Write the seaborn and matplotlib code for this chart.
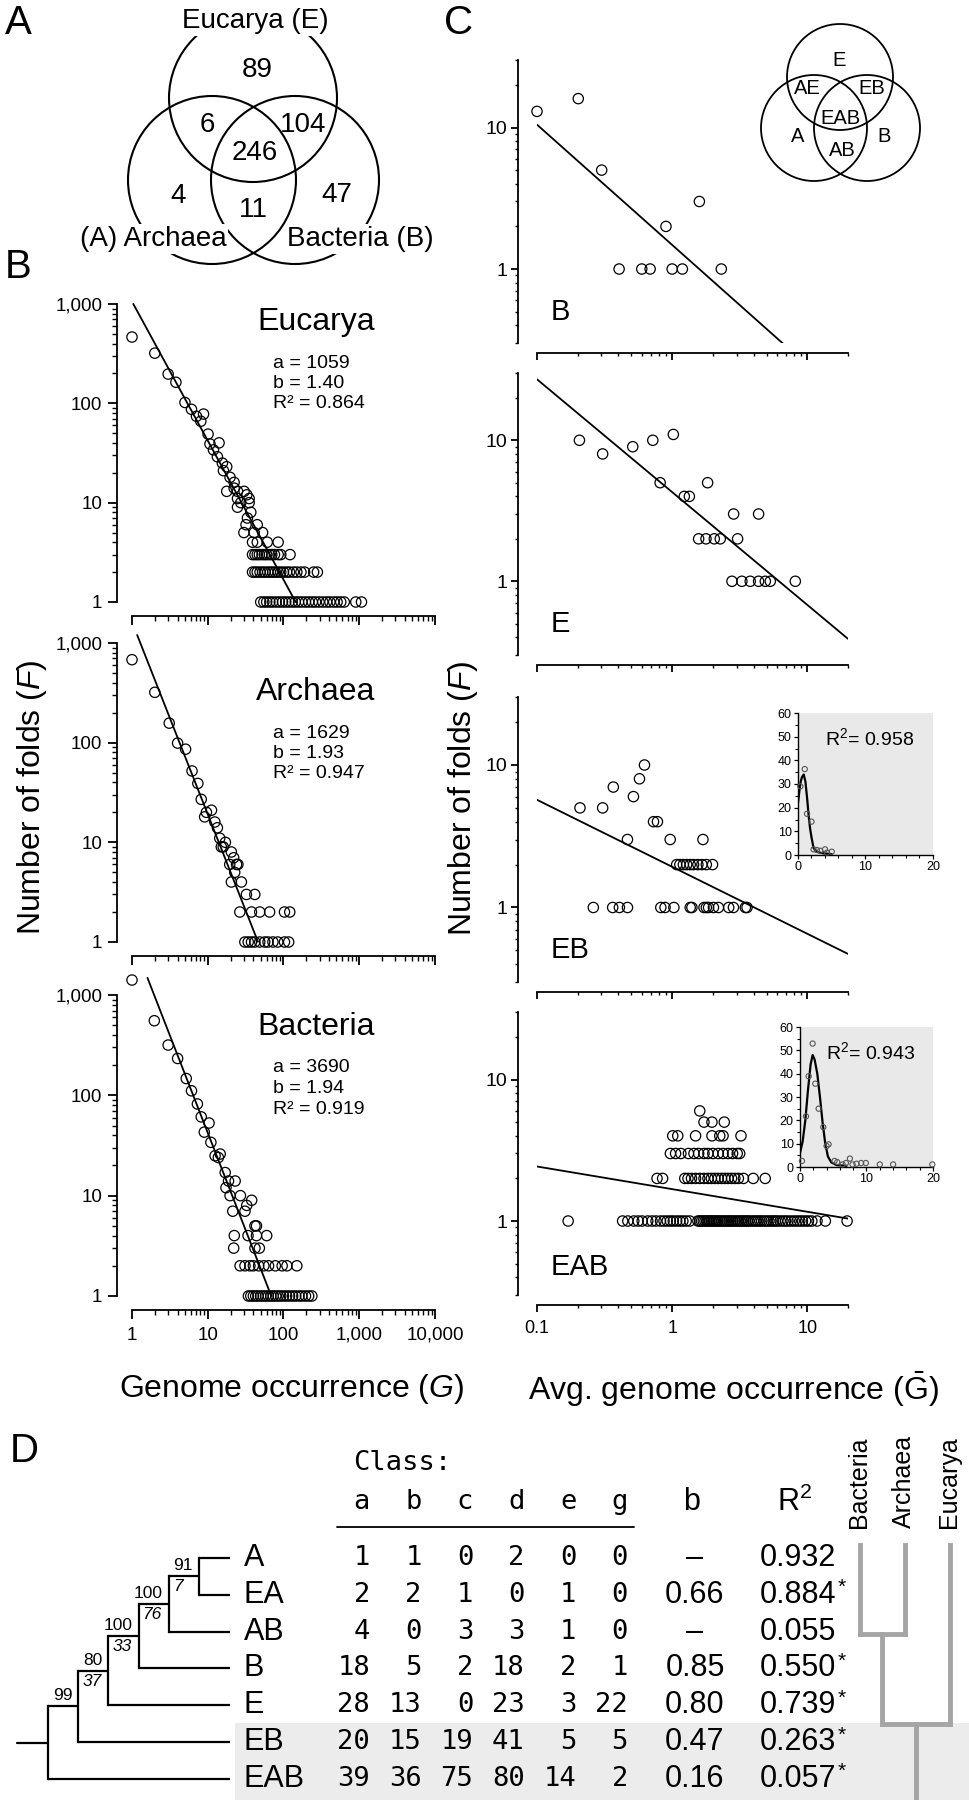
"""Fold distributions in the three superkingdoms (panels A-D)"""

import numpy as np
import pandas as pd
import matplotlib
matplotlib.use('Agg')
from matplotlib import pyplot as plt
from matplotlib import ticker
from matplotlib.patches import Circle, Rectangle
import seaborn as sns

# ---------------- A: Venn diagram of shared folds
venn_regions = ['E', 'AE', 'EB', 'EAB', 'A', 'AB', 'B']
venn_counts = [89, 6, 104, 246, 4, 11, 47]
venn_names = ['Eucarya (E)', '(A) Archaea', 'Bacteria (B)']

# ---------------- B: number of folds (F) vs genome occurrence (G)
kingdoms = ['Eucarya', 'Archaea', 'Bacteria']
fit_a = [1059, 1629, 3690]
fit_b = [1.40, 1.93, 1.94]
fit_r2 = [0.864, 0.947, 0.919]
fit_g_start = [1.04, 1.17, 1.6]
fit_g_end = [145, 46, 69]

euk_g = [1, 2, 3, 3.8, 5, 6.1, 7.1, 8.8, 8.1, 10.1, 10.7, 14.1, 11.9, 13.4, 15.6,
         17.8, 16.1, 19.7, 22.3, 17.8, 22.3, 24.7, 30.2, 32.8, 35.2, 24.7, 27.3,
         35.2, 24.7, 37, 33.4, 32, 45, 30, 41, 53, 39, 45, 61, 85]
euk_f = [465, 320, 197, 163, 102, 87, 74, 78, 66, 49, 39, 40, 34, 29, 25,
         23, 21, 18, 16, 13, 14, 13, 13, 12, 11, 11, 10,
         10, 9, 8, 7, 6, 6, 5, 5, 5, 4, 4, 4, 4]
euk_row3 = [39, 42, 45, 48, 52, 56, 60, 65, 70, 76, 85, 92, 122]
euk_row2 = [39, 42, 45, 49, 53, 57, 62, 67, 72, 78, 85, 92, 100, 110, 120, 135,
            150, 170, 190, 250, 280]
euk_row1 = [50, 55, 60, 66, 72, 80, 88, 97, 107, 118, 130, 143, 158, 175, 195,
            215, 240, 265, 295, 330, 370, 410, 460, 510, 570, 634, 900, 1070]

arc_g = [1, 2, 3.1, 4, 5.1, 6.2, 7.4, 8.2, 9.1, 11.2, 9.6, 12.4, 13.4, 14.4,
         17.1, 15.1, 16, 20.5, 22, 19.5, 24, 25, 22.7, 20.5, 27.8, 32.4, 41.8]
arc_f = [680, 320, 157, 99, 86, 52, 39, 27, 18, 21, 20, 16, 14, 11,
         10, 9, 9, 8, 7, 6, 6, 6, 5, 4, 4, 3, 3]
arc_row2 = [26.5, 37.8, 48.6, 65.6, 103, 121]
arc_row1 = [30.9, 34.2, 37.8, 41.8, 48.6, 56.5, 62.5, 72.5, 84, 103, 117]

bac_g = [1, 1.97, 3, 4, 5.2, 6.1, 7.3, 8.2, 10.4, 9, 11, 12.5, 14.6, 13.8, 17,
         18.8, 23, 17.4, 19.7, 27, 21.4, 32.7, 31, 38, 22.4, 34, 44, 60, 42, 44,
         22, 42, 48]
bac_f = [1410, 554, 317, 233, 147, 111, 82, 61, 53, 43, 34, 25, 26, 24, 17,
         14, 14, 12, 10, 10, 7, 8, 7, 9, 4, 4, 4, 4, 5, 5,
         3, 3, 3]
bac_row2 = [26.7, 31, 36, 40, 47, 55, 63.5, 78, 96, 111, 150]
bac_row1 = [34.4, 37, 40, 43, 46, 50, 54, 58, 63, 68, 73, 79, 85, 92, 100, 110,
            120, 132, 145, 160, 175, 195, 215, 237]

# ---------------- C: F vs average genome occurrence, per distribution class
cls_names = ['B', 'E', 'EB', 'EAB']
cls_icpt = [1.48, 4.29, 1.93, 1.68]

b_x = [0.1, 0.202, 0.301, 1.59, 0.90]
b_f = [13, 16, 5, 3, 2]
b_row1 = [0.405, 0.596, 0.687, 1.0, 1.19, 2.31]

e_x = [0.206, 0.306, 0.511, 0.719, 1.02, 0.815, 1.83, 1.23, 1.34, 2.85, 4.36]
e_f = [10, 8, 9, 10, 11, 5, 5, 4, 4, 3, 3]
e_row2 = [1.57, 1.78, 2.05, 2.27, 3.05]
e_row1 = [2.77, 3.28, 3.78, 4.36, 4.89, 5.32, 8.15]

eb_x = [0.208, 0.306, 0.367, 0.517, 0.573, 0.624, 0.728, 0.778, 0.467, 0.967, 1.69]
eb_f = [5, 5, 7, 6, 8, 10, 4, 4, 3, 3, 3]
eb_row2 = [1.08, 1.14, 1.21, 1.28, 1.36, 1.44, 1.55, 1.66, 1.79, 1.99]
eb_row1 = [0.261, 0.363, 0.407, 0.467, 0.824, 0.886, 1.03, 1.36, 1.40, 1.72,
           1.79, 1.86, 2.02, 2.2, 2.62, 2.84, 3.48, 3.58]

eab_x = [1.6, 1.72, 1.97, 2.43, 1.01, 1.10, 1.49, 1.97, 2.25, 2.38, 3.23]
eab_f = [6, 5, 5, 5, 4, 4, 4, 4, 4, 4, 4]
eab_row3 = [0.97, 1.06, 1.16, 1.32, 1.45, 1.57, 1.72, 1.84, 2.0, 2.19, 2.38,
            2.59, 2.8, 3.03, 3.16]
eab_row2 = [0.773, 0.85, 1.24, 1.31, 1.39, 1.49, 1.6, 1.72, 1.84, 1.95, 2.07,
            2.19, 2.32, 2.45, 2.59, 2.75, 2.91, 3.09, 3.37, 3.98, 4.88]
eab_row1 = [0.17, 0.43, 0.47, 0.52, 0.56, 0.60, 0.66, 0.71, 0.76, 0.82, 0.87,
            0.92, 0.97, 1.02, 1.08, 1.14, 1.2, 1.27, 1.35, 1.55, 1.6, 1.65, 1.7,
            1.75, 1.8, 1.85, 1.9, 1.95, 2.0, 2.06, 2.12, 2.18, 2.25, 2.32, 2.4,
            2.48, 2.56, 2.64, 2.72, 2.8, 2.9, 3.0, 3.1, 3.2, 3.3, 3.4, 3.5, 3.6,
            3.7, 3.85, 4.0, 4.15, 4.3, 4.45, 4.6, 4.8, 5.0, 5.2, 5.4, 5.6, 5.8,
            6.0, 6.3, 6.6, 6.9, 7.2, 7.6, 8.0, 8.4, 8.8, 9.2, 9.7, 10.2, 10.8,
            11.8, 13.6, 19.7]

# insets (distribution of folds, linear axes)
inset_r2 = [0.958, 0.943]
ins_eb_x = [0.35, 1.0, 1.34, 2.0, 2.3, 2.8, 3.3, 4.0, 4.3, 5.0]
ins_eb_y = [29, 36.3, 17.4, 14.1, 2.4, 2.1, 1.8, 2.4, 1.0, 1.4]
curve_eb_x = [0, 0.2, 0.4, 0.6, 0.85, 1.1, 1.35, 1.6, 1.8, 2.0, 2.3, 2.7, 3.2, 4, 5]
curve_eb_y = [22, 27, 31, 33, 34, 31, 24, 16, 11, 7.5, 3, 1.5, 1, 0.6, 0.4]
ins_eab_x = [0.3, 0.9, 1.3, 1.9, 2.3, 2.8, 3.5, 4.0, 4.3, 5.2, 5.6, 6.4, 6.9,
             7.5, 7.9, 8.5, 9.2, 9.9, 12, 14, 19.9]
ins_eab_y = [2.6, 21.7, 38.9, 52.9, 35.7, 25, 17.1, 9.0, 9.7, 2.6, 2.1, 1.1, 1.7,
             3.6, 1.1, 1.4, 1.7, 1.7, 1.1, 1.1, 1.1]
curve_eab_x = [0, 0.4, 0.8, 1.2, 1.6, 1.9, 2.2, 2.6, 3.0, 3.4, 3.8, 4.2, 4.7, 5.5, 7]
curve_eab_y = [6, 11, 20, 33, 44, 48, 46, 40, 30, 19, 10, 4.5, 2, 0.8, 0.5]

# ---------------- D: tree and class table
clades = ['A', 'EA', 'AB', 'B', 'E', 'EB', 'EAB']
class_cols = ['a', 'b', 'c', 'd', 'e', 'g']
cls_a = [1, 2, 4, 18, 28, 20, 39]
cls_b = [1, 2, 0, 5, 13, 15, 36]
cls_c = [0, 1, 3, 2, 0, 19, 75]
cls_d = [2, 0, 3, 18, 23, 41, 80]
cls_e = [0, 1, 1, 2, 3, 5, 14]
cls_g = [0, 0, 0, 1, 22, 5, 2]
slope_b = [None, 0.66, None, 0.85, 0.80, 0.47, 0.16]
r2_vals = [0.932, 0.884, 0.055, 0.550, 0.739, 0.263, 0.057]
r2_star = [False, True, False, True, True, True, True]
boot_top = [99, 80, 100, 100, 91]
boot_low = [None, 37, 33, 76, 7]
tree = (((((('A', 'EA'), 'AB'), 'B'), 'E'), 'EB'), 'EAB')
domains = ['Bacteria', 'Archaea', 'Eucarya']

cls_slope = [slope_b[clades.index(n)] for n in cls_names]

# ---------------- style
W, H = 970, 1800
sns.set_theme(style='ticks')
plt.rcParams['font.family'] = ['Liberation Sans', 'DejaVu Sans']
plt.rcParams['mathtext.fontset'] = 'custom'
plt.rcParams['mathtext.rm'] = 'Liberation Sans'
plt.rcParams['mathtext.it'] = 'Liberation Sans:italic'
plt.rcParams['mathtext.bf'] = 'Liberation Sans:bold'
for key in ['text.color', 'axes.labelcolor', 'xtick.color', 'ytick.color', 'axes.edgecolor']:
    plt.rcParams[key] = 'black'

fig = plt.figure(figsize=(W / 100, H / 100), dpi=100)
fig.patch.set_facecolor('white')


def box(x0, y0, x1, y1):
    """axes from a pixel box (top-left origin)"""
    return fig.add_axes([x0 / W, 1 - y1 / H, (x1 - x0) / W, (y1 - y0) / H])


def collect(xs, fs, rows):
    gx, gf = list(xs), list(fs)
    for level, vals in rows:
        gx += vals
        gf += [level] * len(vals)
    return pd.DataFrame({'x': gx, 'y': gf})


def log_axes(ax, xlim, ylim, off_left, off_bottom, xlabels, xsize, ysize, xpad, ypad, majlen):
    ax.set_xlim(xlim)
    ax.set_ylim(ylim)
    ax.set(xlabel='', ylabel='')
    ax.set_facecolor('none')
    sns.despine(ax=ax, offset={'left': off_left, 'bottom': off_bottom})
    for s in ('left', 'bottom'):
        ax.spines[s].set_linewidth(1.3)
    for axis in (ax.xaxis, ax.yaxis):
        axis.set_major_locator(ticker.LogLocator(base=10, numticks=20))
        axis.set_minor_locator(ticker.LogLocator(base=10, subs=np.arange(2, 10), numticks=20))
        axis.set_major_formatter(ticker.FuncFormatter(lambda v, p: f'{v:,g}'))
        axis.set_minor_formatter(ticker.NullFormatter())
    ax.tick_params(which='major', length=majlen, width=1.3)
    ax.tick_params(which='minor', length=majlen / 2, width=1.0)
    ax.tick_params(axis='y', labelsize=ysize, pad=ypad)
    ax.tick_params(axis='x', labelsize=xsize, pad=xpad, labelbottom=xlabels)


# ---------------- B panels
b_boxes = [(132, 304, 435, 602), (132, 643, 435, 942), (132, 995, 435, 1296)]
b_sets = [collect(euk_g, euk_f, [(3, euk_row3), (2, euk_row2), (1, euk_row1)]),
          collect(arc_g, arc_f, [(2, arc_row2), (1, arc_row1)]),
          collect(bac_g, bac_f, [(2, bac_row2), (1, bac_row1)])]

for i, name in enumerate(kingdoms):
    ax = box(*b_boxes[i])
    ax.set_xscale('log')
    ax.set_yscale('log')
    sns.scatterplot(data=b_sets[i], x='x', y='y', ax=ax, s=55, facecolor='none',
                    edgecolor='black', linewidth=0.9, clip_on=False, legend=False, zorder=3)
    gx = np.array([fit_g_start[i], fit_g_end[i]])
    sns.lineplot(x=gx, y=fit_a[i] * gx ** -fit_b[i], ax=ax, color='black', linewidth=1.3,
                 estimator=None, clip_on=False, legend=False)
    log_axes(ax, (1, 1e4), (1, 1e3), 10.8, 9.8, i == 2, 13.5, 13.5, 6, 4, 6.5)

# ---------------- C panels
c_boxes = [(537, 60, 848, 343), (537, 373, 848, 655), (537, 697, 848, 982), (537, 1012, 848, 1295)]
c_sets = [collect(b_x, b_f, [(1, b_row1)]),
          collect(e_x, e_f, [(2, e_row2), (1, e_row1)]),
          collect(eb_x, eb_f, [(2, eb_row2), (1, eb_row1)]),
          collect(eab_x, eab_f, [(3, eab_row3), (2, eab_row2), (1, eab_row1)])]

for i, name in enumerate(cls_names):
    ax = box(*c_boxes[i])
    ax.set_xscale('log')
    ax.set_yscale('log')
    sns.scatterplot(data=c_sets[i], x='x', y='y', ax=ax, s=55, facecolor='none',
                    edgecolor='black', linewidth=0.9, clip_on=False, legend=False, zorder=3)
    xx = np.array([0.1, 20])
    sns.lineplot(x=xx, y=cls_icpt[i] * xx ** -cls_slope[i], ax=ax, color='black',
                 linewidth=1.3, estimator=None, legend=False)
    log_axes(ax, (0.1, 20), (0.3, 30), 13.7, 7.2, i == 3, 13, 14, 6, 2.5, 5.0)

# insets
ins_boxes = [(798, 713, 933, 855), (800, 1027, 933, 1167)]
ins_pts = [(ins_eb_x, ins_eb_y, curve_eb_x, curve_eb_y),
           (ins_eab_x, ins_eab_y, curve_eab_x, curve_eab_y)]
for i, (px, py, cx, cy) in enumerate(ins_pts):
    ins = box(*ins_boxes[i])
    ins.set_facecolor('#e9e9e9')
    sns.lineplot(x=cx, y=cy, ax=ins, color='black', linewidth=1.6, estimator=None,
                 sort=False, legend=False)
    sns.scatterplot(x=px, y=py, ax=ins, s=14, facecolor='none', edgecolor='#555555',
                    linewidth=0.8, clip_on=False, legend=False, zorder=3)
    ins.set_xlim(0, 20)
    ins.set_ylim(0, 60)
    ins.set_xticks([0, 10, 20])
    ins.set_yticks(range(0, 61, 10))
    ins.xaxis.set_minor_locator(ticker.MultipleLocator(2))
    ins.yaxis.set_minor_locator(ticker.MultipleLocator(5))
    ins.spines['top'].set_visible(False)
    ins.spines['right'].set_visible(False)
    for s in ('left', 'bottom'):
        ins.spines[s].set_linewidth(1.0)
    ins.tick_params(which='major', length=3, width=0.9, labelsize=9, pad=1.5)
    ins.tick_params(which='minor', length=2, width=0.8)
    ins.text(0.53, 0.82, f'R$^2$= {inset_r2[i]:.3f}', transform=ins.transAxes,
             ha='center', va='center', fontsize=14)

# ---------------- overlay in pixel coordinates: Venn, labels, tree, table
ov = fig.add_axes([0, 0, 1, 1])
ov.set_xlim(0, W)
ov.set_ylim(H, 0)
ov.axis('off')

# panel letters
for letter, (lx, ly) in zip('ABCD', [(5, 23), (5, 267), (444, 23), (10, 1451)]):
    ov.text(lx, ly, letter, fontsize=29, ha='left', va='center')

# A: Venn
for cx, cy in [(253, 98), (212, 180), (295, 180)]:
    ov.add_patch(Circle((cx, cy), 84, fill=False, ec='black', lw=1.5, zorder=2))
venn_pos = {'E': (257, 70), 'AE': (207, 125), 'EB': (303, 125), 'EAB': (255, 153),
            'A': (178, 196), 'AB': (253, 210), 'B': (337, 195)}
for reg, cnt in zip(venn_regions, venn_counts):
    ov.text(*venn_pos[reg], str(cnt), fontsize=20, ha='center', va='center')
for name, (tx, ty) in zip(venn_names, [(255, 21), (153, 239), (360, 239)]):
    ov.text(tx, ty, name, fontsize=20, ha='center', va='center', zorder=4,
            bbox=dict(fc='white', ec='none', pad=1.5))

# B: panel annotations
title_y = [322, 692, 1027]
for i, name in enumerate(kingdoms):
    ov.text(316, title_y[i], name, fontsize=23, ha='center', va='center')
    lines = [f'a = {fit_a[i]}', f'b = {fit_b[i]:.2f}', f'R\u00b2 = {fit_r2[i]:.3f}']
    for k, txt in enumerate(lines):
        ov.text(273, title_y[i] + 41 + 20.5 * k, txt, fontsize=14, ha='left', va='center')

ov.text(32, 797, 'Number of folds ($F$)', fontsize=23, rotation=90, ha='center', va='center')
ov.text(463, 798, 'Number of folds ($F$)', fontsize=23, rotation=90, ha='center', va='center')
ov.text(292, 1389, 'Genome occurrence ($G$)', fontsize=23, ha='center', va='center')
ov.text(528, 1389, 'Avg. genome occurrence ($\\bar{\\mathrm{G}}$)', fontsize=23,
        ha='left', va='center')

# C: small Venn key and class labels
for cx, cy in [(840, 77), (814, 128), (867, 128)]:
    ov.add_patch(Circle((cx, cy), 53, fill=False, ec='black', lw=1.3, zorder=2))
key_pos = {'E': (839, 60), 'AE': (807, 89), 'EB': (872, 89), 'EAB': (840, 118),
           'A': (798, 137), 'AB': (842, 151), 'B': (884, 137)}
for reg in venn_regions:
    ov.text(*key_pos[reg], reg, fontsize=14.5, ha='center', va='center')
for name, ly in zip(cls_names, [312, 624, 950, 1267]):
    ov.text(551, ly, name, fontsize=21, ha='left', va='center')

# D: shading, tree and table
row_y = [1558 + 36.8 * i for i in range(len(clades))]
ov.add_patch(Rectangle((235, 1723), W - 235, H - 1723, fc='#ececec', ec='none', zorder=0))

TREE_X0, TREE_STEP, LEAF_X = 48, 30.2, 230
nodes = []


def draw_clade(node, depth):
    if isinstance(node, str):
        return row_y[clades.index(node)]
    x = TREE_X0 + depth * TREE_STEP
    ys = []
    for child in node:
        cy = draw_clade(child, depth + 1)
        x_end = LEAF_X if isinstance(child, str) else TREE_X0 + (depth + 1) * TREE_STEP
        ov.plot([x, x_end], [cy, cy], color='black', lw=1.6, solid_capstyle='butt')
        ys.append(cy)
    ov.plot([x, x], [min(ys), max(ys)], color='black', lw=1.6, solid_capstyle='projecting')
    ny = float(np.mean(ys))
    nodes.append((depth, ny))
    return ny


root_y = draw_clade(tree, 0)
ov.plot([17, TREE_X0], [root_y, root_y], color='black', lw=1.6)
for depth, ny in nodes:
    if depth == 0:
        continue
    ov.text(TREE_X0 + depth * TREE_STEP - 6, ny - 3, str(boot_top[depth - 1]),
            fontsize=12.5, ha='right', va='bottom')
    if boot_low[depth - 1] is not None:
        ov.text(TREE_X0 + (depth - 1) * TREE_STEP + 4, ny + 3, str(boot_low[depth - 1]),
                fontsize=12.5, ha='left', va='top', style='italic')

mono = 'DejaVu Sans Mono'
col_x = [370 + 51.6 * j for j in range(len(class_cols))]
ov.text(353, 1463, 'Class:', fontsize=19.5, family=mono, ha='left', va='center')
for j, c in enumerate(class_cols):
    ov.text(col_x[j], 1502, c, fontsize=19.5, family=mono, ha='right', va='center')
ov.plot([337, 634], [1527, 1527], color='black', lw=1.3)
ov.text(692, 1502, 'b', fontsize=22, ha='center', va='center')
ov.text(795, 1502, 'R$^2$', fontsize=22, ha='center', va='center')

table = [cls_a, cls_b, cls_c, cls_d, cls_e, cls_g]
for i, clade in enumerate(clades):
    y = row_y[i]
    ov.text(244, y, clade, fontsize=22, ha='left', va='center')
    for j, col in enumerate(table):
        ov.text(col_x[j], y, str(col[i]), fontsize=19.5, family=mono, ha='right', va='center')
    sb = '\u2013' if slope_b[i] is None else f'{slope_b[i]:.2f}'
    ov.text(695, y, sb, fontsize=22, ha='center', va='center')
    ov.text(760, y, f'{r2_vals[i]:.3f}', fontsize=22, ha='left', va='center')
    if r2_star[i]:
        ov.text(838, y - 7, '*', fontsize=15, ha='left', va='center')

# domain cladogram ((Bacteria, Archaea), Eucarya)
dom_x = [860, 905, 950]
gray = '#a5a5a5'
for name, dx in zip(domains, dom_x):
    ov.text(dx - 1, 1528, name, fontsize=18, rotation=90, ha='center', va='bottom')
join1 = row_y[2] + 2
join2 = (row_y[4] + row_y[5]) / 2
mid1 = (dom_x[0] + dom_x[1]) / 2
mid2 = (mid1 + dom_x[2]) / 2
seg = [([dom_x[0], dom_x[0]], [1545, join1]), ([dom_x[1], dom_x[1]], [1545, join1]),
       ([dom_x[0], dom_x[1]], [join1, join1]), ([mid1, mid1], [join1, join2]),
       ([dom_x[2], dom_x[2]], [1545, join2]), ([mid1, dom_x[2]], [join2, join2]),
       ([mid2, mid2], [join2, H])]
for sx, sy in seg:
    ov.plot(sx, sy, color=gray, lw=3.5, solid_capstyle='projecting')

fig.savefig('out.png', dpi=100, facecolor='white')
